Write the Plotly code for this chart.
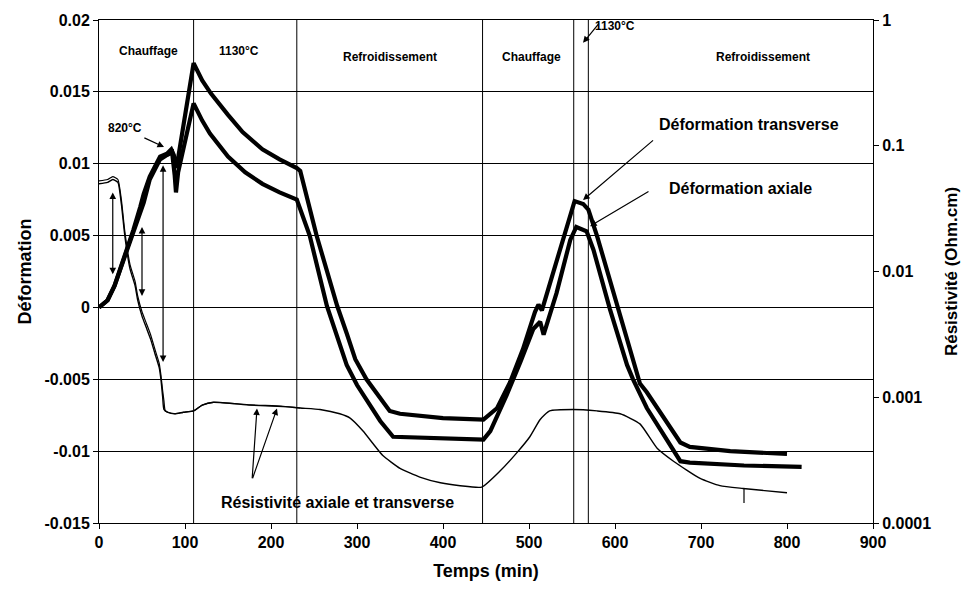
import plotly.graph_objects as go

# ---------------- data ----------------
time_trans = [0, 10, 18, 30, 40, 48, 52, 59, 71, 79, 84, 87, 89, 92, 98, 110,
              120, 130, 150, 167, 190, 210, 230, 234, 253, 265, 277, 288, 298,
              311, 325, 338, 350, 400, 447, 463, 478, 493, 507, 511, 515, 528,
              544, 553, 563, 569, 579, 598, 614, 629, 637, 660, 676, 687, 734, 800]
def_trans = [0, 0.0005, 0.0015, 0.0036, 0.0054, 0.0070, 0.0079, 0.0091, 0.0105,
             0.0107, 0.0110, 0.0106, 0.0097, 0.0104, 0.0125, 0.0170,
             0.0158, 0.0149, 0.0134, 0.0122, 0.0110, 0.0103, 0.0097, 0.0095,
             0.0050, 0.0026, 0.0001, -0.0018, -0.0036, -0.0050, -0.0062, -0.0072,
             -0.0074, -0.0077, -0.0078, -0.0070, -0.0052, -0.0029, -0.0003,
             0.0002, -0.0002, 0.0024, 0.0056, 0.0074, 0.0072, 0.0068, 0.0050,
             0.0010, -0.0022, -0.0053, -0.0059, -0.0080, -0.0094, -0.0097,
             -0.0100, -0.0102]

time_axial = [0, 10, 18, 30, 40, 48, 52, 59, 71, 79, 85, 88, 89.5, 92, 98, 110,
              120, 129, 150, 170, 190, 210, 230, 245, 265, 288, 300, 315, 327,
              342, 400, 447, 455, 474, 490, 505, 513, 517, 532, 548, 555, 567,
              575, 594, 614, 621, 637, 676, 687, 750, 817]
def_axial = [0, 0.0005, 0.0015, 0.0036, 0.0053, 0.0066, 0.0073, 0.0089, 0.0103,
             0.0106, 0.0108, 0.0092, 0.0080, 0.0094, 0.0110, 0.0142,
             0.0130, 0.0121, 0.0105, 0.0094, 0.0086, 0.0080, 0.0075, 0.0050,
             0.0001, -0.0040, -0.0054, -0.0068, -0.0079, -0.0090, -0.0091,
             -0.0092, -0.0086, -0.0061, -0.0038, -0.0015, -0.0010, -0.0019,
             0.0010, 0.0047, 0.0056, 0.0053, 0.0040, -0.0001, -0.0040, -0.0050,
             -0.0070, -0.0107, -0.0108, -0.0110, -0.0111]

# resistivity (Ohm.cm), right log axis
time_res1 = [0, 10, 16, 22, 26, 30, 36, 42, 45, 50, 55, 60, 65, 70, 72, 74, 75.5,
             80, 88, 98, 110, 120, 133, 176, 214, 234, 257, 280, 292, 307, 319,
             330, 350, 373, 397, 420, 445, 466, 486, 501, 513, 524, 551, 579,
             606, 629, 649, 668, 699, 722, 749, 800]
res1 = [0.0498, 0.0511, 0.0539, 0.0511, 0.0344, 0.0193, 0.01054, 0.00769,
        0.00591, 0.00442, 0.00358, 0.00290, 0.00223, 0.00172, 0.00139, 0.00101,
        0.000800, 0.000759, 0.000739, 0.000759, 0.000779, 0.000865, 0.000912,
        0.000865, 0.000843, 0.000821, 0.000800, 0.000739, 0.000683, 0.000539,
        0.000425, 0.000344, 0.000272, 0.000232, 0.000209, 0.000198, 0.000193,
        0.000258, 0.000363, 0.000485, 0.000665, 0.000779, 0.000800, 0.000779,
        0.000739, 0.000614, 0.000393, 0.000310, 0.000226, 0.000198, 0.000188,
        0.000174]

time_res2 = [0, 10, 16, 22, 26, 30, 36, 42, 45, 50, 55, 60, 65, 70, 72, 74, 75.5,
             77, 80, 88, 98, 110, 120, 133, 176, 214, 234]
res2 = [0.0525, 0.0539, 0.0568, 0.0539, 0.0373, 0.0209, 0.01141, 0.00832,
        0.00639, 0.00479, 0.00388, 0.00314, 0.00241, 0.00186, 0.00150, 0.00113,
        0.000936, 0.000779, 0.000759, 0.000739, 0.000759, 0.000779, 0.000865,
        0.000912, 0.000870, 0.000848, 0.000821]

phase_bounds = [110, 230, 446, 552, 569]
phase_labels = ["Chauffage", "1130°C", "Refroidissement", "Chauffage", "Refroidissement"]
phase_label_x = [58, 163, 338, 503, 772]
phase_label_y = [0.957, 0.957, 0.945, 0.945, 0.945]

x_ticks = [0, 100, 200, 300, 400, 500, 600, 700, 800, 900]
y_ticks = [-0.015, -0.01, -0.005, 0, 0.005, 0.01, 0.015, 0.02]
y_ticktext = ["-0.015", "-0.01", "-0.005", "0", "0.005", "0.01", "0.015", "0.02"]
y2_ticks = [0.0001, 0.001, 0.01, 0.1, 1]
y2_ticktext = ["0.0001", "0.001", "0.01", "0.1", "1"]

FONT = "Liberation Sans, Arial, Helvetica, sans-serif"

fig = go.Figure()
fig.add_trace(go.Scatter(x=time_res1, y=res1, mode="lines", yaxis="y2",
                         line=dict(color="black", width=1.4, shape="spline", smoothing=0.5),
                         name="Résistivité axiale"))
fig.add_trace(go.Scatter(x=time_res2, y=res2, mode="lines", yaxis="y2",
                         line=dict(color="black", width=1.2, shape="spline", smoothing=0.5),
                         name="Résistivité transverse"))
fig.add_trace(go.Scatter(x=time_trans, y=def_trans, mode="lines",
                         line=dict(color="black", width=4.2), name="Déformation transverse"))
fig.add_trace(go.Scatter(x=time_axial, y=def_axial, mode="lines",
                         line=dict(color="black", width=4.2), name="Déformation axiale"))

shapes = []
for xb in phase_bounds:
    shapes.append(dict(type="line", xref="x", yref="paper", x0=xb, x1=xb, y0=0, y1=1,
                       line=dict(color="black", width=1)))
# small vertical mark near the end of resistivity curve
shapes.append(dict(type="line", xref="x", yref="y", x0=750, x1=750, y0=-0.0126, y1=-0.0136,
                   line=dict(color="black", width=1.2)))

annotations = []
for t, xl, yl in zip(phase_labels, phase_label_x, phase_label_y):
    annotations.append(dict(text=t, x=xl, y=yl, xref="x", yref="paper", showarrow=False,
                            font=dict(size=12, family=FONT, color="black", weight="bold")))

def arrow(x, y, ax, ay, both=False):
    d = dict(text="", x=x, y=y, ax=ax, ay=ay, xref="x", yref="y", axref="x", ayref="y",
             showarrow=True, arrowhead=2, arrowsize=1.1, arrowwidth=1.2, arrowcolor="black",
             standoff=0, startstandoff=0)
    if both:
        d["arrowside"] = "end+start"
        d["startarrowhead"] = 2
        d["startarrowsize"] = 1.1
    return d

# double arrows between resistivity and deformation
annotations.append(arrow(16, 0.0023, 16, 0.0081, both=True))
annotations.append(arrow(50, 0.0008, 50, 0.0057, both=True))
annotations.append(arrow(74.5, -0.0038, 74.5, 0.0100, both=True))
# 820°C
annotations.append(dict(text="820°C", x=30, y=0.0125, xref="x", yref="y", showarrow=False,
                        font=dict(size=12, family=FONT, color="black", weight="bold")))
annotations.append(arrow(75.6, 0.01116, 51, 0.01185))
# deformation labels
annotations.append(dict(text="Déformation transverse", x=756, y=0.01275, xref="x", yref="y",
                        showarrow=False, font=dict(size=16, family=FONT, color="black", weight="bold")))
annotations.append(arrow(562.8, 0.00747, 646, 0.01171))
annotations.append(dict(text="Déformation axiale", x=746, y=0.00827, xref="x", yref="y",
                        showarrow=False, font=dict(size=16, family=FONT, color="black", weight="bold")))
annotations.append(arrow(571, 0.00565, 640.7, 0.00813))
# resistivity label
annotations.append(dict(text="Résistivité axiale et transverse", x=277, y=-0.01356, xref="x",
                        yref="y", showarrow=False,
                        font=dict(size=16, family=FONT, color="black", weight="bold")))
annotations.append(arrow(183.7, -0.00703, 178, -0.01199))
annotations.append(arrow(207, -0.00703, 178, -0.01199))
# 1130°C second plateau
annotations.append(dict(text="1130°C", x=600, y=1.006, xref="x", yref="paper", showarrow=False,
                        font=dict(size=12, family=FONT, color="black", weight="bold")))
annotations.append(arrow(562.8, 0.01841, 582.6, 0.01986))

fig.update_layout(
    width=977, height=590,
    margin=dict(l=99, r=104, t=15, b=67),
    paper_bgcolor="white", plot_bgcolor="white",
    showlegend=False,
    font=dict(family=FONT, size=16, color="black", weight="bold"),
    shapes=shapes, annotations=annotations,
    xaxis=dict(range=[0, 900], tickvals=x_ticks, showgrid=False, zeroline=False,
               showline=True, linecolor="black", linewidth=1, mirror=True,
               ticks="outside", ticklen=5, tickcolor="black",
               tickfont=dict(size=16, family=FONT, weight="bold"),
               title=dict(text="Temps (min)", font=dict(size=18, family=FONT, weight="bold"),
                          standoff=14)),
    yaxis=dict(range=[-0.015, 0.02], tickvals=y_ticks, ticktext=y_ticktext,
               showgrid=True, gridcolor="black", gridwidth=1, zeroline=False,
               showline=True, linecolor="black", linewidth=1,
               ticks="outside", ticklen=5, tickcolor="black",
               tickfont=dict(size=16, family=FONT, weight="bold"),
               title=dict(text="Déformation", font=dict(size=18, family=FONT, weight="bold"),
                          standoff=8)),
    yaxis2=dict(type="log", range=[-4, 0], overlaying="y", side="right",
                tickvals=y2_ticks, ticktext=y2_ticktext, showgrid=False, zeroline=False,
                showline=True, linecolor="black", linewidth=1,
                ticks="outside", ticklen=5, tickcolor="black",
                tickfont=dict(size=16, family=FONT, weight="bold"),
                title=dict(text="Résistivité (Ohm.cm)",
                           font=dict(size=17, family=FONT, weight="bold"), standoff=14)),
)

fig.write_html("out.html")
